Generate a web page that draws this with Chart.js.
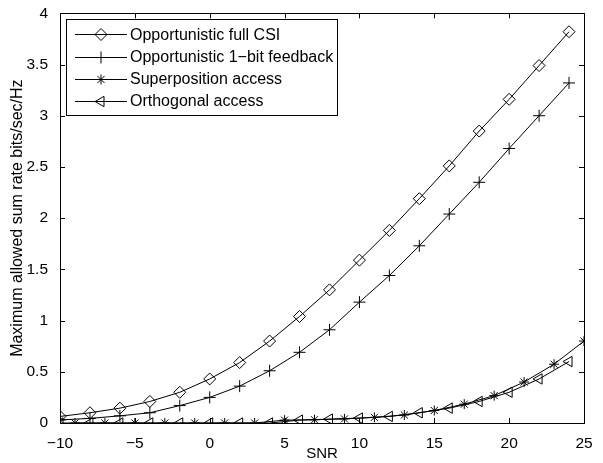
<!DOCTYPE html>
<html>
<head>
<meta charset="utf-8">
<script src="https://cdn.jsdelivr.net/npm/chart.js@4.4.1/dist/chart.umd.min.js"></script>
<style>
  html, body { margin: 0; padding: 0; background: #fff; }
  #wrap { width: 603px; height: 463px; }
</style>
</head>
<body>
<div id="wrap"><canvas id="c" width="603" height="463"></canvas></div>
<script>
// ---- data ----
const snrEven = [-10, -8, -6, -4, -2, 0, 2, 4, 6, 8, 10, 12, 14, 16, 18, 20, 22, 24];
const snrOdd = [-9, -7, -5, -3, -1, 1, 3, 5, 7, 9, 11, 13, 15, 17, 19, 21, 23, 25];
const fullCSI = [0.064, 0.10, 0.145, 0.21, 0.30, 0.43, 0.59, 0.80, 1.04, 1.30, 1.59, 1.88, 2.19, 2.51, 2.85, 3.16, 3.49, 3.82];
const oneBit = [0.03, 0.045, 0.07, 0.10, 0.17, 0.25, 0.36, 0.51, 0.69, 0.91, 1.18, 1.44, 1.73, 2.04, 2.35, 2.68, 3.00, 3.32];
const superposition = [0, 0, 0, 0, 0, 0, 0, 0.028, 0.032, 0.04, 0.055, 0.078, 0.122, 0.184, 0.267, 0.40, 0.574, 0.80];
const orthogonal = [0, 0, 0, 0, 0, 0, 0, 0, 0.028, 0.038, 0.048, 0.064, 0.10, 0.145, 0.21, 0.30, 0.43, 0.60];
const seriesNames = ['Opportunistic full CSI', 'Opportunistic 1\u2212bit feedback', 'Superposition access', 'Orthogonal access'];
const xTicks = [-10, -5, 0, 5, 10, 15, 20, 25];
const yTicks = [0, 0.5, 1, 1.5, 2, 2.5, 3, 3.5, 4];
const xTitle = 'SNR';
const yTitle = 'Maximum allowed sum rate bits/sec/Hz';

const pts = (xs, ys) => xs.map((x, i) => ({ x: x, y: ys[i] }));
const FONT = '"Liberation Sans", Arial, Helvetica, sans-serif';

function ds(label, data, style, radius, rotation) {
  return {
    label: label,
    data: data,
    borderColor: '#000',
    borderWidth: 1,
    pointStyle: style,
    pointRadius: radius,
    pointHoverRadius: radius,
    pointRotation: rotation || 0,
    pointBorderColor: '#000',
    pointBorderWidth: 1,
    pointBackgroundColor: 'rgba(0,0,0,0)',
    tension: 0,
    fill: false
  };
}

const datasets = [
  ds(seriesNames[0], pts(snrEven, fullCSI), 'rectRot', 6),
  ds(seriesNames[1], pts(snrEven, oneBit), 'cross', 6),
  ds(seriesNames[2], pts(snrOdd, superposition), 'star', 5),
  ds(seriesNames[3], pts(snrEven, orthogonal), 'triangle', 6, -90)
];

const PLOT = { left: 60, right: 584, top: 10, bottom: 423 };

const fmt = v => (v < 0 ? '\u2212' + Math.abs(v) : String(v));

const frame = {
  id: 'frame',
  afterDatasetsDraw(chart) {
    const { ctx, chartArea: a, scales } = chart;
    ctx.save();
    ctx.strokeStyle = '#000';
    ctx.lineWidth = 1;
    const tl = 5;
    ctx.beginPath();
    xTicks.forEach(v => {
      const px = Math.round(scales.x.getPixelForValue(v)) + 0.5;
      ctx.moveTo(px, a.bottom); ctx.lineTo(px, a.bottom - tl);
      ctx.moveTo(px, a.top); ctx.lineTo(px, a.top + tl);
    });
    yTicks.forEach(v => {
      const py = Math.round(scales.y.getPixelForValue(v)) + 0.5;
      ctx.moveTo(a.left, py); ctx.lineTo(a.left + tl, py);
      ctx.moveTo(a.right, py); ctx.lineTo(a.right - tl, py);
    });
    ctx.stroke();
    ctx.strokeRect(Math.round(a.left) + 0.5, Math.round(a.top) + 0.5, Math.round(a.right - a.left), Math.round(a.bottom - a.top));

    // legend
    const lx = 66, ly = 19, lw = 271, lh = 96;
    ctx.fillStyle = '#fff';
    ctx.fillRect(lx, ly, lw, lh);
    ctx.strokeRect(lx + 0.5, ly + 0.5, lw, lh);
    ctx.font = '16px ' + FONT;
    ctx.textBaseline = 'middle';
    ctx.textAlign = 'left';
    chart.data.datasets.forEach((d, i) => {
      const y = 34.3 + i * 22.2;
      ctx.beginPath();
      ctx.moveTo(75, Math.round(y) + 0.5); ctx.lineTo(127, Math.round(y) + 0.5);
      ctx.strokeStyle = '#000';
      ctx.lineWidth = 1;
      ctx.stroke();
      ctx.fillStyle = 'rgba(0,0,0,0)';
      Chart.helpers.drawPoint(ctx, {
        pointStyle: d.pointStyle,
        rotation: d.pointRotation,
        radius: d.pointRadius,
        borderWidth: 1
      }, 101, Math.round(y) + 0.5);
      ctx.fillStyle = '#000';
      ctx.fillText(d.label, 130, y + 1);
    });
    ctx.restore();
  }
};

new Chart(document.getElementById('c'), {
  type: 'line',
  data: { datasets: datasets },
  plugins: [frame],
  options: {
    responsive: false,
    animation: false,
    devicePixelRatio: 1,
    layout: { padding: { left: 6, right: 603 - PLOT.right, top: PLOT.top, bottom: 0 } },
    plugins: { legend: { display: false }, tooltip: { enabled: false } },
    elements: { point: { borderWidth: 1 } },
    scales: {
      x: {
        type: 'linear',
        min: -10, max: 25,
        afterBuildTicks: s => { s.ticks = xTicks.map(v => ({ value: v })); },
        afterFit: s => { s.height = 463 - PLOT.bottom; },
        grid: { display: false },
        border: { display: false },
        ticks: { color: '#000', font: { family: FONT, size: 15.5 }, padding: 3, maxRotation: 0, callback: fmt },
        title: { display: true, text: xTitle, color: '#000', font: { family: FONT, size: 15 }, padding: { top: 0, bottom: 0 } }
      },
      y: {
        type: 'linear',
        min: 0, max: 4,
        afterBuildTicks: s => { s.ticks = yTicks.map(v => ({ value: v })); },
        afterFit: s => { s.width = PLOT.left - 6; },
        grid: { display: false },
        border: { display: false },
        ticks: { color: '#000', font: { family: FONT, size: 15.5 }, padding: 4, callback: fmt },
        title: { display: true, text: yTitle, color: '#000', font: { family: FONT, size: 16 }, padding: { top: 2, bottom: 0 } }
      }
    }
  }
});
</script>
</body>
</html>
